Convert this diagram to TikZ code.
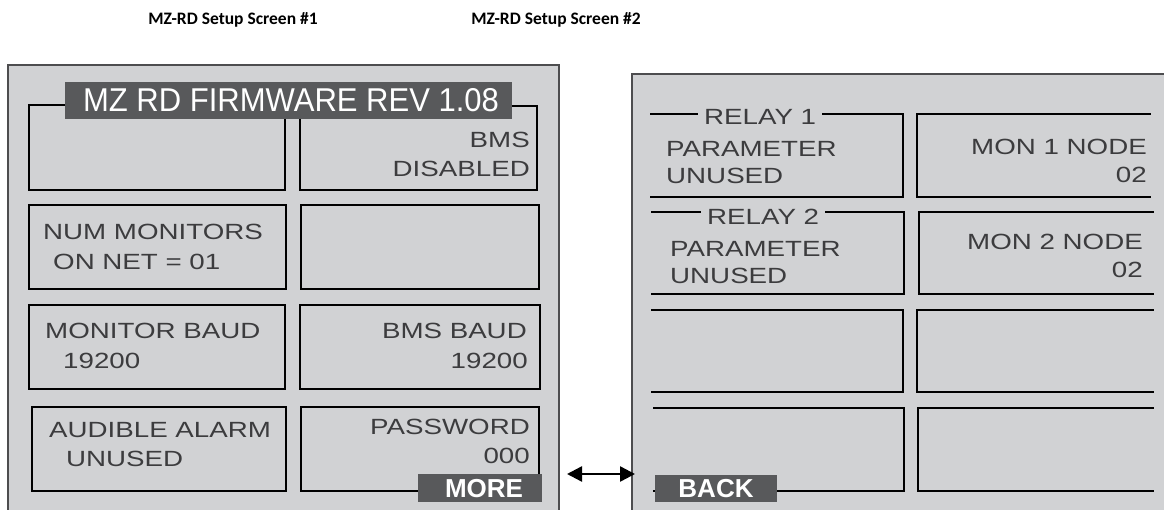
\documentclass[tikz,border=0pt]{standalone}
\usepackage{fontspec}
\usetikzlibrary{arrows.meta}
\newfontfamily\scr[FakeStretch=1.26]{Liberation Sans}
\newfontfamily\hdr[FakeStretch=0.94]{Liberation Sans}
\newfontfamily\btnf{Liberation Sans}
\newfontfamily\ttlf{Carlito}
\definecolor{panel}{HTML}{D1D2D4}
\definecolor{panelline}{HTML}{4D4D4F}
\definecolor{dark}{HTML}{58595B}
\definecolor{txt}{HTML}{3C3C3E}
\newcommand\mybox[6]{\node[#6, minimum width={(#4-#2)*1pt}, minimum height={(#5-#3)*1pt}] (#1) at ({(#2+#4)/2},{(#3+#5)/2}) {};}
\tikzset{
  sbox/.style={draw=black, line width=1.6pt, inner sep=0pt, outer sep=0pt},
  obox/.style={inner sep=0pt, outer sep=0pt},
  open/.style={draw=black, line width=1.6pt, line cap=rect},
  lbl/.style={text=txt, font=\scr\fontsize{22}{26}\selectfont, inner sep=0pt},
  lw/.style={lbl, anchor=base west},
  le/.style={lbl, anchor=base east},
  btn/.style={fill=dark, inner sep=0pt, outer sep=0pt},
  btntxt/.style={text=white, font=\btnf\bfseries\fontsize{26}{30}\selectfont, inner sep=0pt, anchor=base},
  ttl/.style={font=\ttlf\bfseries\fontsize{17.5}{20}\selectfont, inner sep=0pt, anchor=base},
}
\begin{document}
\begin{tikzpicture}[x=1pt,y=-1pt]
\useasboundingbox (0,0) rectangle (1164,510);
% titles
\node[ttl] (t1) at (233,24.5) {MZ-RD Setup Screen \#1};
\node[ttl] (t2) at (556,24.5) {MZ-RD Setup Screen \#2};
% ---------- Screen 1 ----------
\fill[panel] (8,65) rectangle (559,512);
\draw[panelline, line width=1.5pt] (8,512) -- (8,65) -- (559,65) -- (559,512);
\mybox{a1}{29}{105}{285}{190}{sbox}
\mybox{b1}{300}{106}{537}{190}{sbox}
\mybox{a2}{29}{205}{286}{289}{sbox}
\mybox{b2}{301}{205}{539}{289}{sbox}
\mybox{a3}{29}{305}{285}{389}{sbox}
\mybox{b3}{300}{305}{540}{389}{sbox}
\mybox{a4}{32}{407}{286}{491}{sbox}
\mybox{b4}{301}{407}{539}{491}{sbox}
\mybox{hdr}{65}{82}{512}{119}{btn}
\node[text=white, font=\hdr\fontsize{33}{36}\selectfont, inner sep=0pt, anchor=base] (hdrt) at (291,112) {MZ RD FIRMWARE REV 1.08};
\node[le] (bms) at (530,148) {BMS};
\node[le] (dis) at (530,177) {DISABLED};
\node[lw] (num) at (43,240) {NUM MONITORS};
\node[lw] (onnet) at (53,270) {ON NET = 01};
\node[lw] (mbaud) at (45,339) {MONITOR BAUD};
\node[lw] (mbv) at (63,368) {19200};
\node[le] (bbaud) at (527,338) {BMS BAUD};
\node[le] (bbv) at (528,368) {19200};
\node[lw] (aud) at (49,437) {AUDIBLE ALARM};
\node[lw] (audv) at (66,466) {UNUSED};
\node[le] (pw) at (530,434) {PASSWORD};
\node[le] (pwv) at (530,463) {000};
\mybox{more}{418}{474}{542}{502}{btn}
\node[btntxt] (moret) at (484,497) {MORE};
% ---------- Screen 2 ----------
\fill[panel] (632,74) rectangle (1166,512);
\draw[panelline, line width=1.5pt] (632,512) -- (632,74) -- (1166,74);
\mybox{r1}{651}{114}{903}{197}{obox}
\mybox{r2}{652}{212}{904}{294}{obox}
\mybox{r3}{652}{310}{903}{392}{obox}
\mybox{r4}{654}{408}{904}{491}{obox}
\foreach \n in {r1,r2,r3,r4}
  \draw[open] (\n.north west) -- (\n.north east) -- (\n.south east) -- (\n.south west);
\mybox{m1}{917}{114}{1150}{197}{obox}
\mybox{m2}{919}{212}{1153}{294}{obox}
\mybox{m3}{917}{310}{1153}{392}{obox}
\mybox{m4}{918}{408}{1153}{491}{obox}
\foreach \n in {m1,m2,m3,m4}
  \draw[open] (\n.north east) -- (\n.north west) -- (\n.south west) -- (\n.south east);
\node[lw, fill=panel, inner xsep=6pt, inner ysep=0pt] (rl1) at (698,125) {RELAY 1};
\node[lw] (p1) at (666,157) {PARAMETER};
\node[lw] (u1) at (666,184) {UNUSED};
\node[lw, fill=panel, inner xsep=6pt, inner ysep=0pt] (rl2) at (701,225) {RELAY 2};
\node[lw] (p2) at (670,257) {PARAMETER};
\node[lw] (u2) at (670,284) {UNUSED};
\node[le] (mn1) at (1147,155) {MON 1 NODE};
\node[le] (mv1) at (1147,183) {02};
\node[le] (mn2) at (1143,250) {MON 2 NODE};
\node[le] (mv2) at (1143,278) {02};
\mybox{back}{655}{475}{777}{502}{btn}
\node[btntxt] (backt) at (716,497) {BACK};
% ---------- arrow ----------
\coordinate (arrL) at (567,474);
\coordinate (arrR) at (635,474);
\draw[line width=2.4pt, {Triangle[length=15pt,width=15pt]}-{Triangle[length=15pt,width=15pt]}] (arrL) -- (arrR);
\end{tikzpicture}
\end{document}
